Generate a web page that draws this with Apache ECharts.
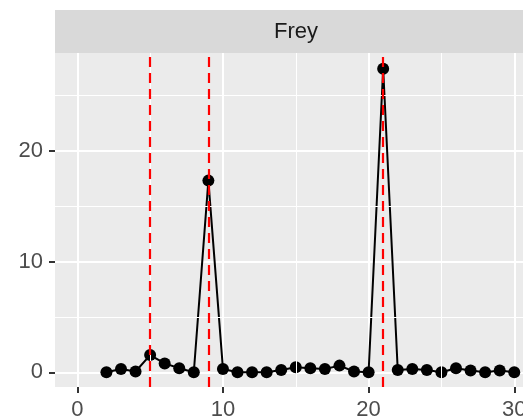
<!DOCTYPE html>
<html>
<head>
<meta charset="utf-8">
<script src="https://cdn.jsdelivr.net/npm/echarts@6/dist/echarts.min.js"></script>
<style>
  html, body { margin: 0; padding: 0; background: #fff; }
  #chart { width: 523px; height: 416px; }
</style>
</head>
<body>
<div id="chart"></div>
<script>
const xValues = [2, 3, 4, 5, 6, 7, 8, 9, 10, 11, 12, 13, 14, 15, 16, 17, 18, 19, 20, 21, 22, 23, 24, 25, 26, 27, 28, 29, 30];
const yValues = [0, 0.3, 0.07, 1.55, 0.8, 0.36, 0, 17.3, 0.3, 0, 0, 0, 0.2, 0.45, 0.36, 0.3, 0.6, 0.07, 0, 27.4, 0.2, 0.3, 0.2, 0, 0.36, 0.15, 0, 0.15, 0];
const refLines = [5, 9, 21];
const xTicks = [0, 10, 20, 30];
const yTicks = [0, 10, 20];
const xMinor = [5, 15, 25];
const yMinor = [5, 15, 25];
const facetTitle = 'Frey';

const chart = echarts.init(document.getElementById('chart'));

const points = xValues.map(function(x, i) { return [x, yValues[i]]; });

const font = 'Liberation Sans, Arial, sans-serif';

// minor grid lines (ggplot draws them between the major ones)
const minorLines = xMinor.map(function(v) { return { xAxis: v }; })
    .concat(yMinor.map(function(v) { return { yAxis: v }; }));

const option = {
    animation: false,
    grid: {
        left: 55, top: 53, width: 468, height: 334,
        outerBoundsMode: 'none',
        show: true, backgroundColor: '#EBEBEB', borderWidth: 0
    },
    graphic: [{
        type: 'group',
        left: 55,
        top: 10,
        children: [{
            type: 'rect',
            shape: { x: 0, y: 0, width: 468, height: 43 },
            style: { fill: '#D9D9D9' }
        }, {
            type: 'text',
            x: 241,
            y: 22,
            style: { text: facetTitle, fill: '#1A1A1A', font: '22px ' + font, align: 'center', verticalAlign: 'middle' }
        }]
    }],
    xAxis: {
        type: 'value',
        min: -1.53,
        max: 30.6,
        axisLine: { show: false, onZero: false },
        axisTick: { show: true, customValues: xTicks, length: 6, lineStyle: { color: '#333333', width: 2 } },
        axisLabel: { customValues: xTicks, color: '#4D4D4D', fontSize: 22, fontFamily: font, margin: 12 },
        splitLine: { show: true, lineStyle: { color: '#FFFFFF', width: 2 } }
    },
    yAxis: {
        type: 'value',
        min: -1.33,
        max: 28.82,
        axisLine: { show: false, onZero: false },
        axisTick: { show: true, customValues: yTicks, length: 6, lineStyle: { color: '#333333', width: 2 } },
        axisLabel: { customValues: yTicks, color: '#4D4D4D', fontSize: 22, fontFamily: font, margin: 12 },
        splitLine: { show: true, lineStyle: { color: '#FFFFFF', width: 2 } }
    },
    series: [{
        type: 'line',
        data: [],
        silent: true,
        z: 1,
        markLine: {
            silent: true,
            symbol: 'none',
            label: { show: false },
            lineStyle: { color: '#FFFFFF', width: 1, type: 'solid' },
            data: minorLines
        }
    }, {
        type: 'line',
        data: points,
        z: 3,
        symbol: 'circle',
        symbolSize: 12,
        itemStyle: { color: '#000000' },
        lineStyle: { color: '#000000', width: 2 }
    }, {
        type: 'line',
        data: [],
        z: 5,
        markLine: {
            silent: true,
            symbol: 'none',
            label: { show: false },
            lineStyle: { color: '#FF0000', width: 2.2, type: [10, 6] },
            data: refLines.map(function(v) { return { xAxis: v }; })
        }
    }]
};

chart.setOption(option);
</script>
</body>
</html>
